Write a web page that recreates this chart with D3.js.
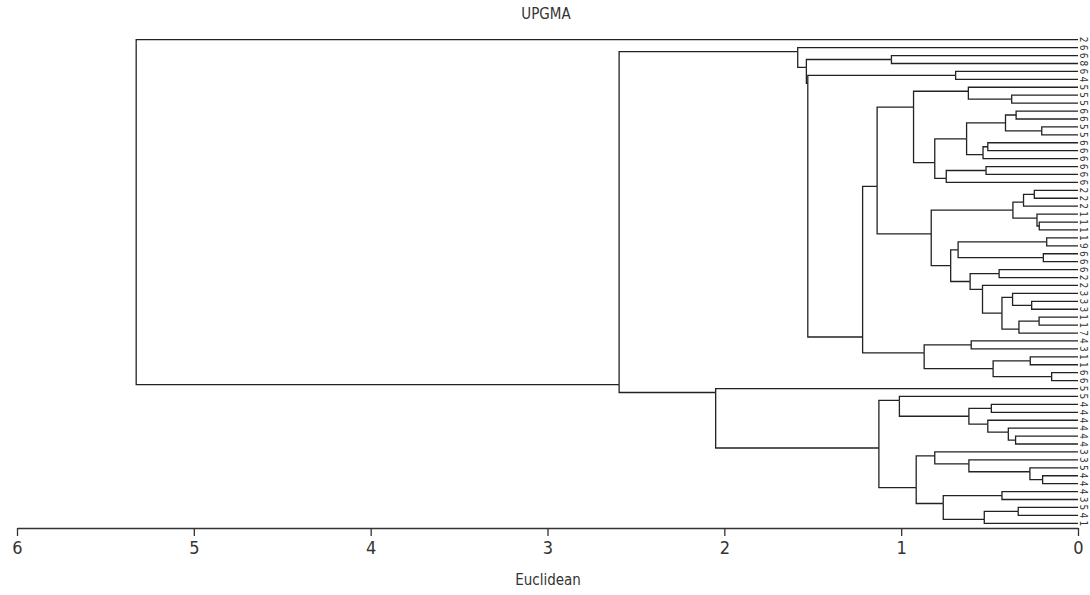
<!DOCTYPE html>
<html>
<head>
<meta charset="utf-8">
<script src="https://cdn.jsdelivr.net/npm/d3@7"></script>
<style>
    body { margin: 0; background: #fff; }
    svg text { font-family: "Liberation Sans Narrow", "DejaVu Sans Condensed", "Liberation Sans", sans-serif; fill: #333; }
    .branch { fill: none; stroke: #222; stroke-width: 1.3; }
    .axis path, .axis line { stroke: #333; stroke-width: 1.3; }
</style>
</head>
<body>
<div id="chart"></div>
<script>

// leaf labels, top to bottom
var leafLabels = ["2","6","6","8","6","4","5","5","5","6","6","5","5","6","6","6","6","6","6","2",
                  "2","2","1","1","1","1","9","6","6","6","2","2","3","3","3","1","1","7","4","3",
                  "1","1","6","6","5","5","4","4","4","4","4","4","3","3","5","4","4","4","3","5",
                  "4","1"];

// merges: [left, right, height]; negative = leaf number, positive = earlier merge row (1-based)
var merges = [
    [-12, -13, 0.205], [-10, -11, 0.35], [2, 1, 0.41], [-14, -15, 0.51], [4, -16, 0.537],
    [3, 5, 0.63], [-17, -18, 0.52], [7, -19, 0.745], [6, 8, 0.81], [-8, -9, 0.375],
    [-7, 10, 0.62], [11, 9, 0.93], [-20, -21, 0.247], [13, -22, 0.308], [-24, -25, 0.219],
    [-23, 15, 0.232], [14, 16, 0.368], [-26, -27, 0.177], [-28, -29, 0.196], [18, 19, 0.678],
    [-30, -31, 0.446], [-34, -35, 0.262], [-33, 22, 0.37], [-36, -37, 0.22], [24, -38, 0.334],
    [23, 25, 0.43], [-32, 26, 0.54], [21, 27, 0.61], [20, 28, 0.72], [17, 29, 0.83],
    [12, 30, 1.136], [-39, -40, 0.604], [-41, -42, 0.27], [-43, -44, 0.149], [33, 34, 0.48],
    [32, 35, 0.87], [31, 36, 1.218], [-5, -6, 0.692], [38, 37, 1.528], [-3, -4, 1.055],
    [40, 39, 1.536], [-2, 41, 1.585], [-47, -48, 0.49], [-51, -52, 0.353], [-50, 44, 0.394],
    [-49, 45, 0.51], [43, 46, 0.617], [-46, 47, 1.01], [-56, -57, 0.2], [-55, 49, 0.272],
    [-54, 50, 0.617], [-53, 51, 0.81], [-58, -59, 0.43], [-60, -61, 0.338], [54, -62, 0.53],
    [53, 55, 0.762], [52, 56, 0.915], [48, 57, 1.126], [-45, 58, 2.049], [42, 59, 2.595],
    [-1, 60, 5.326]
];

var axisTicks = [0, 1, 2, 3, 4, 5, 6];

var width = 1090, height = 595;

var svg = d3.select("#chart").append("svg")
    .attr("width", width)
    .attr("height", height);

// scales
var x = d3.scaleLinear().domain([0, 6]).range([1078, 17]);
var y = d3.scaleLinear().domain([0, leafLabels.length - 1]).range([39.7, 523.3]);

// build tree from the merge table
var leaves = leafLabels.map(function(l, i) {
    return { name: l, index: i, height: 0, first: i, last: i };
});
var merged = [];
function ref(r) { return r < 0 ? leaves[-r - 1] : merged[r - 1]; }
merges.forEach(function(m) {
    var a = ref(m[0]), b = ref(m[1]);
    merged.push({ children: [a, b], height: m[2], first: a.first, last: b.last });
});

var root = d3.hierarchy(merged[merged.length - 1]);

// a node joins its parent between the last leaf of its left child and the first leaf of its right child
root.each(function(d) {
    if (d.children) {
        d.yPos = (y(d.children[0].data.last) + y(d.children[1].data.first)) / 2;
    } else {
        d.yPos = y(d.data.index);
    }
    d.xPos = x(d.data.height);
});

svg.append("g").selectAll("path")
    .data(root.links())
    .enter().append("path")
    .attr("class", "branch")
    .attr("d", function(l) {
        return "M" + l.source.xPos + "," + l.source.yPos + "V" + l.target.yPos + "H" + l.target.xPos;
    });

// leaf labels
svg.append("g").selectAll("text")
    .data(root.leaves())
    .enter().append("text")
    .attr("transform", function(d) { return "translate(" + (x(0) + 2) + "," + d.yPos + ") rotate(90)"; })
    .attr("text-anchor", "middle")
    .style("font-size", "10px")
    .text(function(d) { return d.data.name; });

// axis
var xAxis = d3.axisBottom(x)
    .tickValues(axisTicks)
    .tickFormat(d3.format("d"))
    .tickSize(8)
    .tickSizeOuter(0)
    .tickPadding(5);

var gx = svg.append("g")
    .attr("class", "axis")
    .attr("transform", "translate(0,528)")
    .call(xAxis);
gx.selectAll("text").style("font-size", "18px").style("fill", "#333");

svg.append("text")
    .attr("x", 548)
    .attr("y", 585)
    .attr("text-anchor", "middle")
    .style("font-size", "15px")
    .text("Euclidean");

svg.append("text")
    .attr("x", 546)
    .attr("y", 19)
    .attr("text-anchor", "middle")
    .style("font-size", "15px")
    .text("UPGMA");

</script>
</body>
</html>
